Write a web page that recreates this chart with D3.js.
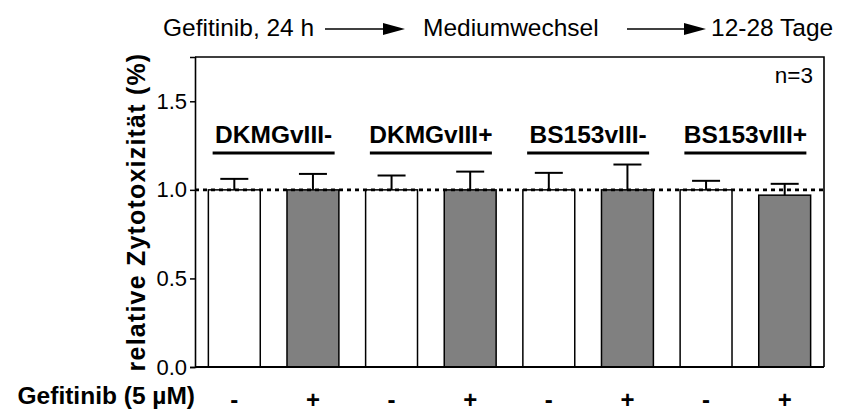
<!DOCTYPE html>
<html>
<head>
<meta charset="utf-8">
<script src="https://cdn.jsdelivr.net/npm/d3@7"></script>
<style>
  body { margin: 0; background: #fff; }
  text { font-family: "Liberation Sans", Arial, sans-serif; fill: #000; }
</style>
</head>
<body>
<svg id="chart"></svg>
<script>
// values
var groups = ['DKMGvIII-', 'DKMGvIII+', 'BS153vIII-', 'BS153vIII+']
var treatment = ['-', '+', '-', '+', '-', '+', '-', '+']
var means = [1.00, 1.00, 1.00, 1.00, 1.00, 1.00, 1.00, 0.97]
var errUp = [0.062, 0.09, 0.081, 0.103, 0.096, 0.143, 0.051, 0.064]
var yTicks = [0, 0.5, 1.0, 1.5]
var steps = ['Gefitinib, 24 h', 'Mediumwechsel', '12-28 Tage']

var W = 851, H = 415
var margin = {left: 195, right: 27, top: 57, bottom: 48}

var svg = d3.select('#chart')
    .attr('width', W)
    .attr('height', H)

var x = d3.scaleBand()
    .domain(d3.range(means.length))
    .range([margin.left, W - margin.right])
    .paddingInner(0.34)
    .paddingOuter(0.17)

var y = d3.scaleLinear()
    .domain([0, 1.75])
    .range([H - margin.bottom, margin.top])

// frame (top + right)
svg.append('path')
    .attr('d', 'M' + margin.left + ',' + y(1.75) + 'H' + (W - margin.right) + 'V' + y(0))
    .attr('fill', 'none')
    .attr('stroke', '#000')
    .attr('stroke-width', 1.6)

// bars
svg.selectAll('rect.bar')
    .data(means)
  .enter().append('rect')
    .attr('class', 'bar')
    .attr('x', function(d, i) { return x(i) })
    .attr('y', function(d) { return y(d) })
    .attr('width', x.bandwidth())
    .attr('height', function(d) { return y(0) - y(d) })
    .attr('fill', function(d, i) { return treatment[i] == '+' ? '#808080' : '#fff' })
    .attr('stroke', '#000')
    .attr('stroke-width', 1.5)

// reference line at 1.0
svg.append('line')
    .attr('x1', margin.left)
    .attr('x2', W - margin.right)
    .attr('y1', y(1))
    .attr('y2', y(1))
    .attr('stroke', '#000')
    .attr('stroke-width', 2.6)
    .attr('stroke-dasharray', '4,4')

// error bars (upper only)
var err = svg.selectAll('g.err')
    .data(means)
  .enter().append('g')
    .attr('class', 'err')
    .attr('stroke', '#000')
    .attr('stroke-width', 2)

err.append('line')
    .attr('x1', function(d, i) { return x(i) + x.bandwidth() / 2 })
    .attr('x2', function(d, i) { return x(i) + x.bandwidth() / 2 })
    .attr('y1', function(d) { return y(d) })
    .attr('y2', function(d, i) { return y(d + errUp[i]) })

err.append('line')
    .attr('x1', function(d, i) { return x(i) + x.bandwidth() / 2 - 14 })
    .attr('x2', function(d, i) { return x(i) + x.bandwidth() / 2 + 14 })
    .attr('y1', function(d, i) { return y(d + errUp[i]) })
    .attr('y2', function(d, i) { return y(d + errUp[i]) })

// y axis
var yAxis = svg.append('g')
    .attr('transform', 'translate(' + margin.left + ',0)')
    .call(d3.axisLeft(y).tickValues(yTicks).tickFormat(d3.format('.1f')).tickSize(5).tickPadding(3))

yAxis.select('.domain').attr('stroke-width', 1.6)
yAxis.selectAll('.tick line').attr('stroke-width', 1.5)
yAxis.selectAll('.tick text')
    .style('font-family', '"Liberation Sans", Arial, sans-serif')
    .style('font-size', '22px')

// x baseline
svg.append('line')
    .attr('x1', margin.left)
    .attr('x2', W - margin.right)
    .attr('y1', y(0))
    .attr('y2', y(0))
    .attr('stroke', '#000')
    .attr('stroke-width', 2.2)

// group labels with underline
var gl = svg.selectAll('g.group')
    .data(groups)
  .enter().append('g')
    .attr('class', 'group')
    .attr('transform', function(d, i) {
      var cx = (x(2 * i) + x(2 * i + 1) + x.bandwidth()) / 2
      return 'translate(' + cx + ',0)'
    })

gl.append('text')
    .attr('y', 143)
    .attr('text-anchor', 'middle')
    .style('font-size', '24.5px')
    .style('font-weight', 'bold')
    .text(function(d) { return d })

gl.append('line')
    .attr('x1', -61)
    .attr('x2', 61)
    .attr('y1', 153)
    .attr('y2', 153)
    .attr('stroke', '#000')
    .attr('stroke-width', 3)

// treatment signs
svg.selectAll('text.sign')
    .data(treatment)
  .enter().append('text')
    .attr('class', 'sign')
    .attr('x', function(d, i) { return x(i) + x.bandwidth() / 2 })
    .attr('y', 408)
    .attr('text-anchor', 'middle')
    .style('font-size', '24px')
    .style('font-weight', 'bold')
    .text(function(d) { return d })

svg.append('text')
    .attr('x', 195)
    .attr('y', 404)
    .attr('text-anchor', 'end')
    .style('font-size', '24.5px')
    .style('font-weight', 'bold')
    .text('Gefitinib (5 µM)')

// y title
svg.append('text')
    .attr('transform', 'translate(145,' + (y(0) + y(1.75)) / 2 + ') rotate(-90)')
    .attr('text-anchor', 'middle')
    .style('font-size', '25px')
    .style('font-weight', 'bold')
    .style('letter-spacing', '1.2px')
    .text('relative Zytotoxizität (%)')

svg.append('text')
    .attr('x', 813)
    .attr('y', 83)
    .attr('text-anchor', 'end')
    .style('font-size', '22.5px')
    .text('n=3')

// timeline on top
var stepX = [163, 423, 711]
svg.selectAll('text.step')
    .data(steps)
  .enter().append('text')
    .attr('class', 'step')
    .attr('x', function(d, i) { return stepX[i] })
    .attr('y', 36)
    .style('font-size', '24.5px')
    .text(function(d) { return d })

var arrows = [[325, 405], [627, 706]]
arrows.forEach(function(a) {
  svg.append('line')
      .attr('x1', a[0])
      .attr('x2', a[1] - 20)
      .attr('y1', 29)
      .attr('y2', 29)
      .attr('stroke', '#000')
      .attr('stroke-width', 1.5)
  svg.append('path')
      .attr('d', 'M' + (a[1] - 22) + ',' + 23 + 'L' + a[1] + ',29L' + (a[1] - 22) + ',35Z')
      .attr('fill', '#000')
})
</script>
</body>
</html>
